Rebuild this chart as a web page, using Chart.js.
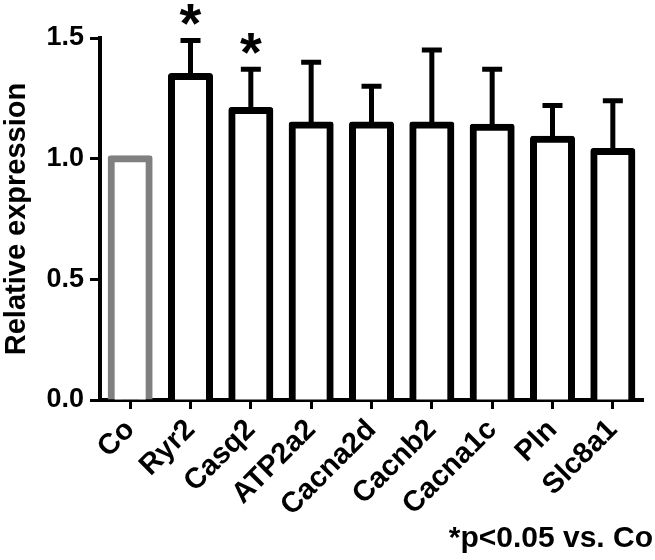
<!DOCTYPE html>
<html>
<head>
<meta charset="utf-8">
<script src="https://cdn.jsdelivr.net/npm/chart.js@4.4.1/dist/chart.umd.min.js"></script>
<style>
  body { margin: 0; background: #fff; }
  #wrap { width: 655px; height: 560px; }
</style>
</head>
<body>
<div id="wrap"><canvas id="chart"></canvas></div>
<script>
// values
const genes  = ['Co', 'Ryr2', 'Casq2', 'ATP2a2', 'Cacna2d', 'Cacnb2', 'Cacna1c', 'Pln', 'Slc8a1'];
const means  = [1.00, 1.34, 1.20, 1.14, 1.14, 1.14, 1.13, 1.08, 1.03];
const errTop = [null, 1.49, 1.37, 1.40, 1.30, 1.45, 1.37, 1.22, 1.24];
const signif = [false, true, true, false, false, false, false, false, false];
const yTicks = [0, 0.5, 1.0, 1.5];

const FONT = "'Liberation Sans', Arial, sans-serif";

// error bars + stars, drawn through the y scale
const errorBars = {
  id: 'errorBars',
  afterDatasetsDraw(chart) {
    const ctx = chart.ctx;
    const y = chart.scales.y;
    const meta = chart.getDatasetMeta(0);
    ctx.save();
    ctx.strokeStyle = '#000';
    ctx.lineWidth = 5;
    meta.data.forEach((bar, i) => {
      if (errTop[i] == null) return;
      const top = y.getPixelForValue(errTop[i]);
      ctx.beginPath();
      ctx.moveTo(bar.x, bar.y);
      ctx.lineTo(bar.x, top);
      ctx.moveTo(bar.x - 10, top);
      ctx.lineTo(bar.x + 10, top);
      ctx.stroke();
      if (signif[i]) {
        ctx.fillStyle = '#000';
        ctx.font = 'bold 56px ' + FONT;
        ctx.textAlign = 'center';
        ctx.textBaseline = 'alphabetic';
        ctx.fillText('*', bar.x, top + 2);
      }
    });
    ctx.restore();
  }
};

// footnote
const note = {
  id: 'note',
  afterDraw(chart) {
    const ctx = chart.ctx;
    ctx.save();
    ctx.fillStyle = '#000';
    ctx.font = 'bold 30px ' + FONT;
    ctx.textAlign = 'right';
    ctx.textBaseline = 'alphabetic';
    ctx.fillText('*p<0.05 vs. Co', 653, 547);
    ctx.restore();
  }
};

new Chart(document.getElementById('chart'), {
  type: 'bar',
  data: {
    labels: genes,
    datasets: [{
      data: means,
      backgroundColor: '#fff',
      borderColor: genes.map((g, i) => i === 0 ? '#808080' : '#000'),
      borderWidth: 7,
      borderRadius: 3,
      borderSkipped: 'start',
      inflateAmount: 3.5,
      barPercentage: 0.63,
      categoryPercentage: 1
    }]
  },
  options: {
    responsive: true,
    maintainAspectRatio: false,
    animation: false,
    layout: { padding: { top: 38, right: 12, left: 0, bottom: 0 } },
    plugins: {
      legend: { display: false },
      tooltip: { enabled: false }
    },
    scales: {
      x: {
        z: 1,
        afterFit(scale) { scale.height = 160; },
        border: { display: true, color: '#000', width: 4 },
        grid: {
          offset: false,
          drawOnChartArea: false,
          drawTicks: true,
          tickLength: 9,
          tickWidth: 3,
          tickColor: '#000'
        },
        ticks: {
          color: '#000',
          font: { family: FONT, size: 29, weight: 'bold' },
          minRotation: 45,
          maxRotation: 45,
          padding: 4
        }
      },
      y: {
        min: 0,
        max: 1.5,
        afterFit(scale) { scale.width = 100; },
        afterBuildTicks(scale) { scale.ticks = yTicks.map(v => ({ value: v })); },
        border: { display: true, color: '#000', width: 4 },
        grid: {
          drawOnChartArea: false,
          drawTicks: true,
          tickLength: 10,
          tickWidth: 3,
          tickColor: '#000'
        },
        ticks: {
          color: '#000',
          font: { family: FONT, size: 27, weight: 'bold' },
          padding: 6,
          callback: v => v.toFixed(1)
        },
        title: {
          display: true,
          text: 'Relative expression',
          color: '#000',
          font: { family: FONT, size: 29, weight: 'bold' },
          padding: 0
        }
      }
    }
  },
  plugins: [errorBars, note]
});
</script>
</body>
</html>
